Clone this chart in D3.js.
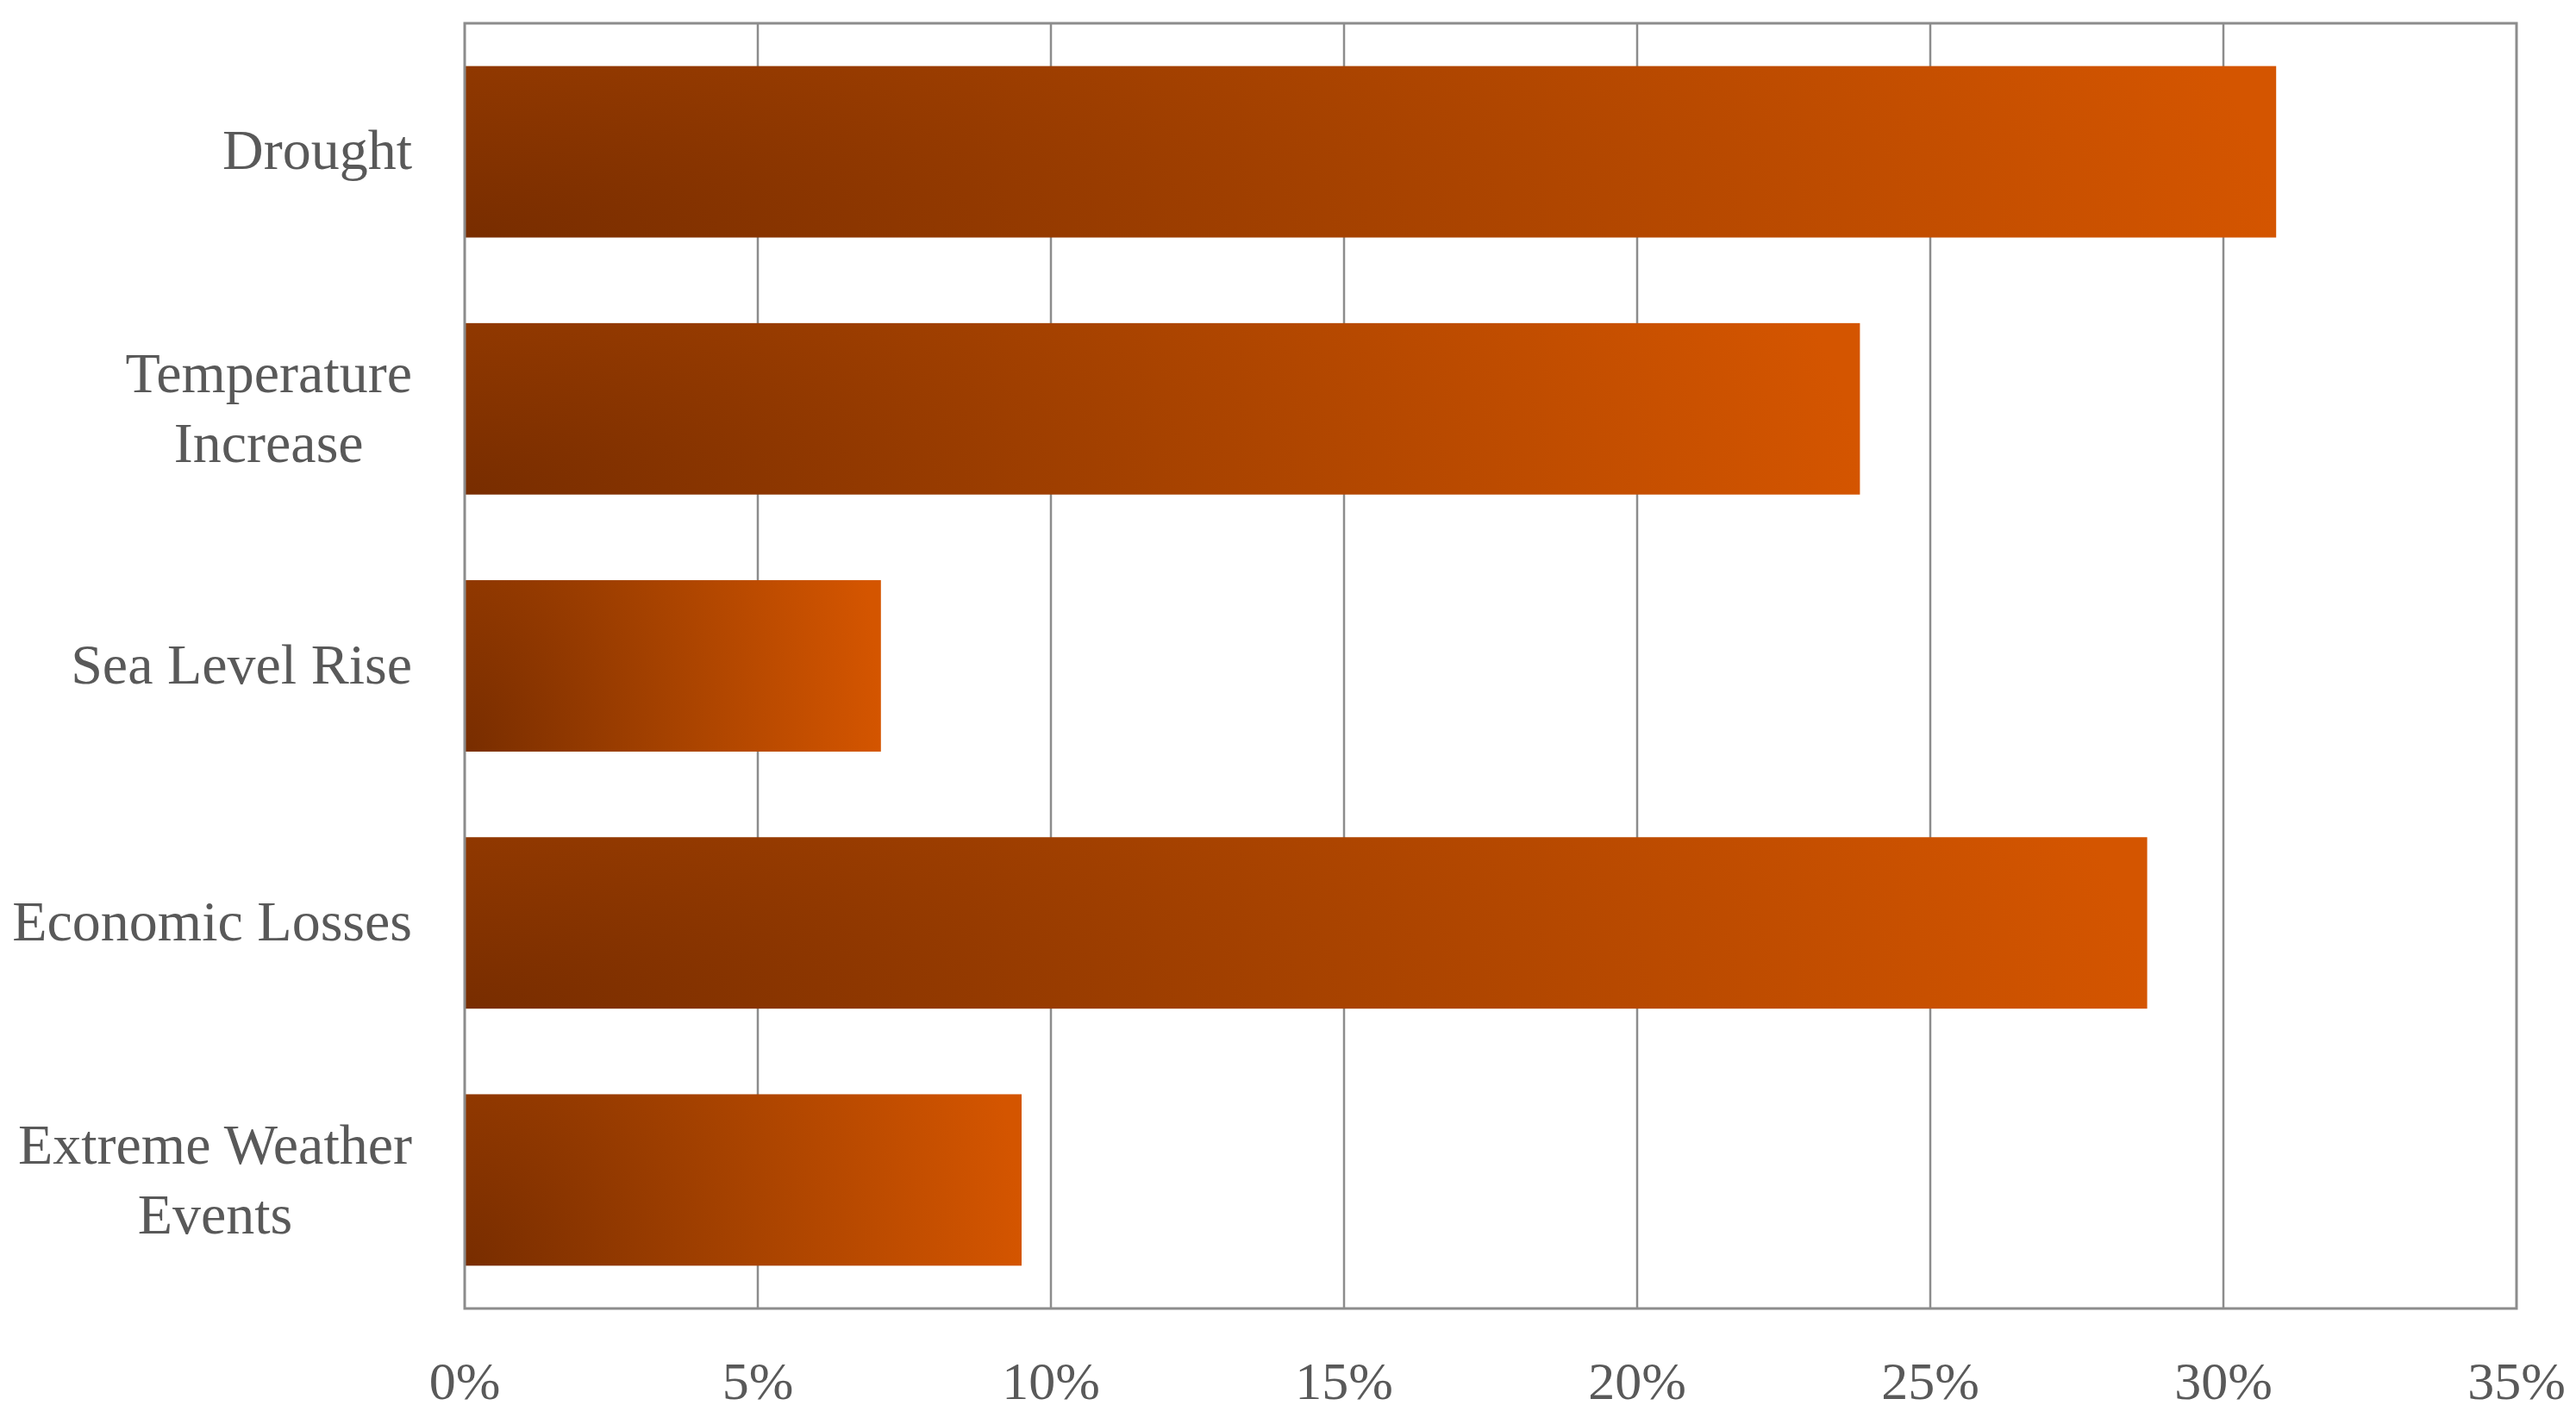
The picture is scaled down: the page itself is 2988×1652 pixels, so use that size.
<!DOCTYPE html>
<html>
<head>
<meta charset="utf-8">
<script src="https://cdn.jsdelivr.net/npm/d3@7"></script>
<style>
  html, body { margin: 0; padding: 0; background: #ffffff; }
  svg { display: block; }
</style>
</head>
<body>
<svg id="chart" width="2988" height="1652"></svg>
<script>
// ---- data ----
const categories = ["Drought", "Temperature Increase", "Sea Level Rise", "Economic Losses", "Extreme Weather Events"];
const categoryLabelLines = [["Drought"], ["Temperature", "Increase"], ["Sea Level Rise"], ["Economic Losses"], ["Extreme Weather", "Events"]];
const values = [0.309, 0.238, 0.071, 0.287, 0.095];
const xTickValues = [0, 0.05, 0.10, 0.15, 0.20, 0.25, 0.30, 0.35];
const xTickLabels = ["0%", "5%", "10%", "15%", "20%", "25%", "30%", "35%"];

// ---- layout ----
const W = 2988, H = 1652;
const plot = { left: 539, right: 2919, top: 27, bottom: 1518 };
const gridColor = "#8c8c8c";
const textColor = "#595959";
const fontFamily = "'Liberation Serif', 'Times New Roman', serif";

const svg = d3.select("#chart");

const defs = svg.append("defs");
const grad = defs.append("radialGradient")
  .attr("id", "barGrad")
  .attr("gradientUnits", "objectBoundingBox")
  .attr("cx", 0).attr("cy", 1).attr("fx", 0).attr("fy", 1).attr("r", 1)
  .attr("gradientTransform", "translate(0,1) scale(1,3.8) translate(0,-1)");
grad.append("stop").attr("offset", 0).attr("stop-color", "#782d00");
grad.append("stop").attr("offset", 0.5).attr("stop-color", "#a64200");
grad.append("stop").attr("offset", 1).attr("stop-color", "#d45500");

const x = d3.scaleLinear().domain([0, 0.35]).range([plot.left, plot.right]);
const y = d3.scaleBand().domain(categories).range([plot.top, plot.bottom])
  .paddingInner(0.333).paddingOuter(0.1665);

// gridlines
svg.append("g").selectAll("line")
  .data(xTickValues.slice(1, -1))
  .join("line")
  .attr("x1", d => x(d)).attr("x2", d => x(d))
  .attr("y1", plot.top).attr("y2", plot.bottom)
  .attr("stroke", gridColor).attr("stroke-width", 2.5);

// bars
svg.append("g").selectAll("rect")
  .data(categories)
  .join("rect")
  .attr("x", x(0))
  .attr("y", d => y(d))
  .attr("width", (d, i) => x(values[i]) - x(0))
  .attr("height", y.bandwidth())
  .attr("fill", "url(#barGrad)");

// plot frame
svg.append("rect")
  .attr("x", plot.left).attr("y", plot.top)
  .attr("width", plot.right - plot.left).attr("height", plot.bottom - plot.top)
  .attr("fill", "none").attr("stroke", gridColor).attr("stroke-width", 3);

// x-axis tick labels
svg.append("g").selectAll("text")
  .data(xTickValues)
  .join("text")
  .attr("x", d => x(d))
  .attr("y", 1623)
  .attr("text-anchor", "middle")
  .attr("font-family", fontFamily)
  .attr("font-size", 62)
  .attr("fill", textColor)
  .text((d, i) => xTickLabels[i]);

// y-axis category labels (multi-line, centred on each other, block right-aligned)
const labelRight = 478;
const lineGap = 81;
const fontSize = 66;
const measure = svg.append("text").attr("font-family", fontFamily).attr("font-size", fontSize).attr("visibility", "hidden");
const labelG = svg.append("g");
categories.forEach((c, i) => {
  const lines = categoryLabelLines[i];
  const widths = lines.map(l => { measure.text(l); return measure.node().getComputedTextLength(); });
  const maxW = d3.max(widths);
  const cx = labelRight - maxW / 2;
  const yc = y(c) + y.bandwidth() / 2;
  const base0 = lines.length === 1 ? yc + 20 : yc - 19;
  lines.forEach((l, j) => {
    labelG.append("text")
      .attr("x", cx)
      .attr("y", base0 + j * lineGap)
      .attr("text-anchor", "middle")
      .attr("font-family", fontFamily)
      .attr("font-size", fontSize)
      .attr("fill", textColor)
      .text(l);
  });
});
measure.remove();
</script>
</body>
</html>
